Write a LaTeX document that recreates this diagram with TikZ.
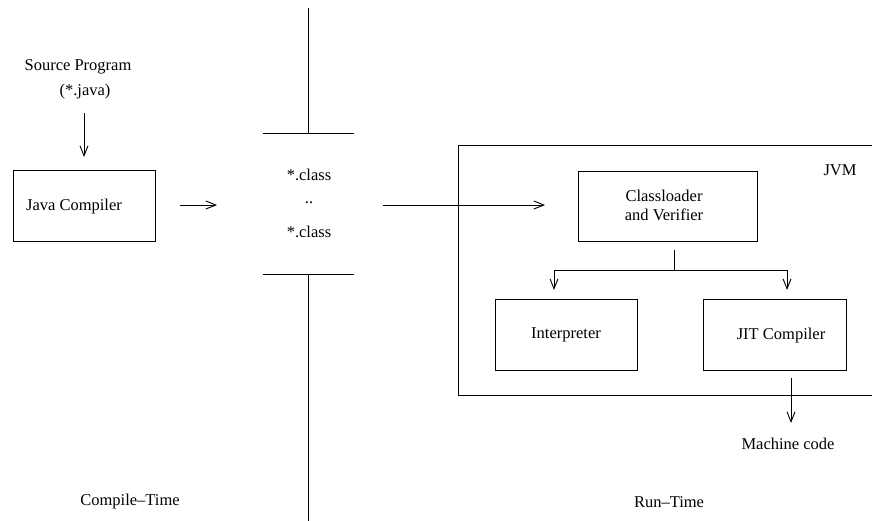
\documentclass[tikz,border=0pt]{standalone}
\usepackage{fontspec}
\setmainfont{Liberation Serif}
\usetikzlibrary{arrows.meta}
\begin{document}
\begin{tikzpicture}[x=1pt,y=-1pt,
  line width=0.9pt,
  every node/.style={font=\fontsize{16.5}{19}\selectfont, inner sep=0pt},
  lbl/.style={align=center},
  box/.style={draw, minimum width=#1, minimum height=71pt},
  flow/.style={-{Straight Barb[length=10pt,width=8pt,line width=0.9pt]}}]
  \useasboundingbox (0,0) rectangle (872,521);

  % compile-time side
  \node[lbl] (src) at (78,67) {Source Program};
  \node[lbl] (ext) at (85,92) {(*.java)};
  \node[box=142pt] (jc) at (84,205.5) {};
  \node (jctxt) at (74,207) {Java Compiler};
  \coordinate (a1s) at (84,113);
  \coordinate (a1e) at (84,157);
  \draw[flow] (a1s) -- (a1e);
  \coordinate (a2s) at (180,205);
  \coordinate (a2e) at (217,205);
  \draw[flow] (a2s) -- (a2e);
  \node (ct) at (130,502) {Compile–Time};

  % class files between the two bars
  \coordinate (topend) at (308,8);
  \coordinate (topjoin) at (308,133);
  \coordinate (botjoin) at (308,274);
  \coordinate (botend) at (308,521);
  \coordinate (tl) at (263,133);
  \coordinate (tr) at (354,133);
  \coordinate (bl) at (263,274);
  \coordinate (br) at (354,274);
  \draw (topend) -- (topjoin);
  \draw (tl) -- (tr);
  \draw (bl) -- (br);
  \draw (botjoin) -- (botend);
  \node (c1) at (309,175) {*.class};
  \node (dots) at (309,203) {..};
  \node (c2) at (309,232) {*.class};
  \coordinate (a3s) at (383,205);
  \coordinate (a3e) at (545,205);
  \draw[flow] (a3s) -- (a3e);

  % JVM
  \begin{scope}
    \clip (0,0) rectangle (872,521);
    \draw (458,145) rectangle (890,395);
  \end{scope}
  \node (jvm) at (840,170) {JVM};
  \node[box=179pt, minimum height=70pt] (cl) at (667.5,206) {};
  \node[lbl] (cltxt) at (664,205) {Classloader\\and Verifier};
  \node[box=142pt] (interp) at (566,334.5) {Interpreter};
  \node[box=143pt] (jit) at (774.5,334.5) {};
  \node (jittxt) at (781,336) {JIT Compiler};
  \coordinate (br0) at (674,250);
  \coordinate (br1) at (674,270);
  \coordinate (bL) at (554,270);
  \coordinate (bR) at (787,270);
  \coordinate (bLe) at (554,290);
  \coordinate (bRe) at (787,290);
  \draw (br0) -- (br1);
  \draw[flow] (br1) -- (bL) -- (bLe);
  \draw[flow] (br1) -- (bR) -- (bRe);
  \coordinate (a4s) at (791,378);
  \coordinate (a4e) at (791,423);
  \draw[flow] (a4s) -- (a4e);
  \node (mc) at (788,444) {Machine code};
  \node (rt) at (669,502) {Run–Time};
\end{tikzpicture}
\end{document}
